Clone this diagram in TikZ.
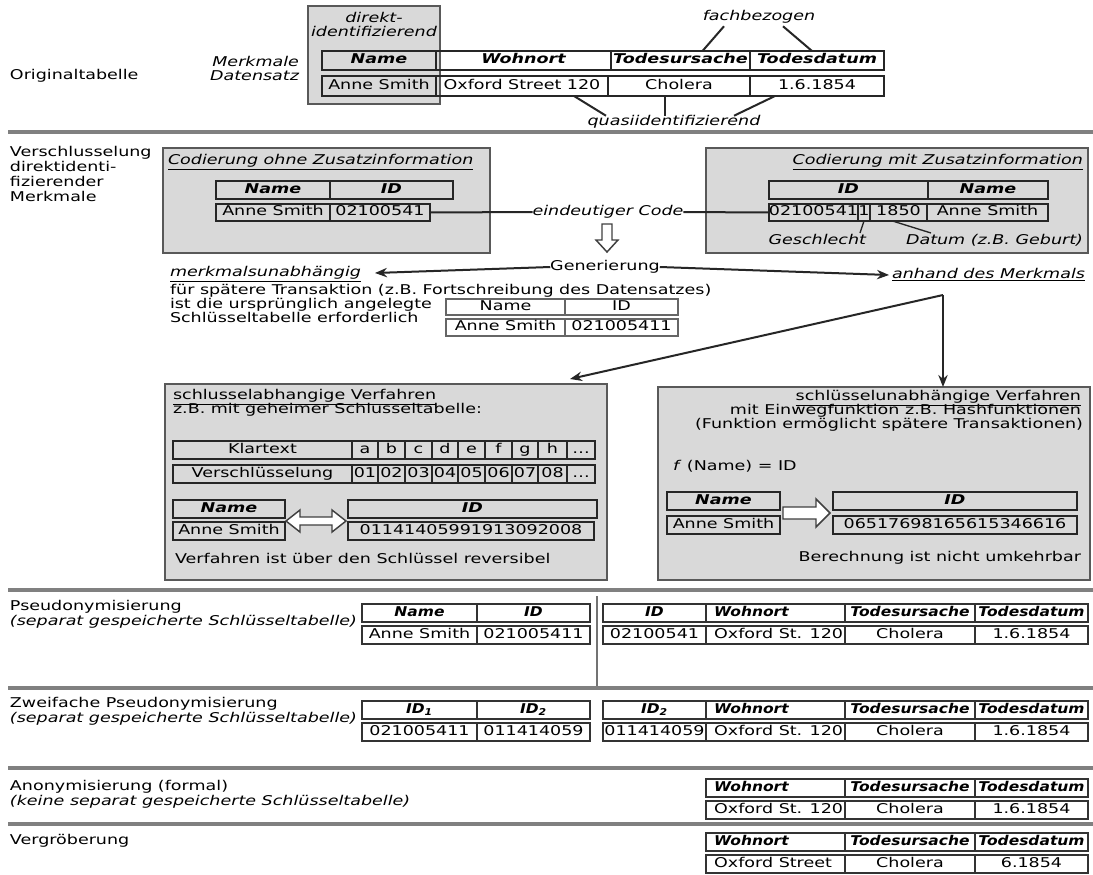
\documentclass[tikz,border=0pt]{standalone}
\usepackage{fontspec}
\setmainfont{DejaVu Sans}[FakeStretch=1.3,ItalicFont={DejaVu Sans Oblique},BoldFont={DejaVu Sans Bold},BoldItalicFont={DejaVu Sans Bold Oblique}]
\newfontfamily\hdrfont{DejaVu Sans}[FakeStretch=1.15,ItalicFont={DejaVu Sans Oblique},BoldFont={DejaVu Sans Bold},BoldItalicFont={DejaVu Sans Bold Oblique}]
\usetikzlibrary{arrows.meta,calc}

% font size used throughout
\newcommand\msz{\fontsize{10.1pt}{11.25pt}\selectfont}
% rectangular cell given by its corners (in px units)
\newcommand\tcell[7][]{\node[#1,inner sep=0pt,outer sep=0pt,minimum width={(#5-#3)*0.75pt},minimum height={(#6-#4)*0.75pt}] (#2) at ({(#3+#5)/2},{(#4+#6)/2}) {#7};}
\newcommand\lft[2]{\makebox[#1][l]{\hspace*{5pt}#2}}

\tikzset{
  txt/.style={inner sep=0pt,outer sep=0pt,text height=7.3pt,text depth=2.1pt},
  lbl/.style={txt,font=\msz},
  itl/.style={txt,font=\msz\itshape},
  graybox/.style={draw=black!65,line width=1.3pt,fill=black!15},
  hcell/.style={draw=black!85,line width=1.2pt,text height=7.3pt,text depth=2.1pt,font=\msz\bfseries\itshape},
  dcell/.style={draw=black!85,line width=1pt,text height=7.3pt,text depth=2.1pt,font=\msz},
  pcell/.style={draw=black!60,line width=0.9pt,text height=7.3pt,text depth=2.1pt,font=\msz},
  lhcell/.style={draw=black!80,line width=1.3pt,text height=7.3pt,text depth=2.1pt,font=\hdrfont\msz\bfseries\itshape},
  ldcell/.style={draw=black!80,line width=1pt,text height=7.3pt,text depth=2.1pt,font=\msz},
  conn/.style={line width=1.5pt,draw=black!85},
  thinconn/.style={line width=1pt,draw=black!85},
  arr/.style={conn,-{Stealth[length=9pt,width=7pt]}},
  sep/.style={line width=2.3pt,draw=black!50},
  vsep/.style={line width=1.8pt,draw=black!55},
  hollow/.style={draw=black!75,line width=1.1pt,fill=white,line join=miter}
}

\begin{document}
\begin{tikzpicture}[x=0.75pt,y=-0.75pt]
\path[use as bounding box,fill=white] (0,0) rectangle (1093,875);

% ---------- original table
\node[lbl,anchor=west] (orig) at (10,76) {Originaltabelle};
\node[itl,anchor=east] (merk) at (299,63) {Merkmale};
\node[itl,anchor=east] (dsatz) at (299,77) {Datensatz};
\tcell[graybox]{dbox}{308}{6}{440}{104}{}
\node[itl] (dk1) at (374,19) {direkt-};
\node[itl] (dk2) at (374,33) {identifizierend};
\tcell[hcell]{h1}{322}{51}{436}{70}{Name}
\tcell[hcell]{h2}{436}{51}{611}{70}{Wohnort}
\tcell[hcell]{h3}{611}{51}{750}{70}{Todesursache}
\tcell[hcell]{h4}{750}{51}{884}{70}{Todesdatum}
\tcell[dcell]{d1}{322}{76}{436}{96}{Anne Smith}
\tcell[dcell]{d2}{436}{76}{608}{96}{Oxford Street 120}
\tcell[dcell]{d3}{608}{76}{750}{96}{Cholera}
\tcell[dcell]{d4}{750}{76}{884}{96}{1.6.1854}
\node[itl] (fach) at (759,17) {fachbezogen};
\draw[conn] ($(fach.south)+(-35,3)$) -- ($(h3.north)+(22,0)$);
\draw[conn] ($(fach.south)+(24,3)$) -- ($(h4.north)+(-5,0)$);
\node[itl] (quasi) at (674,122) {quasiidentifizierend};
\draw[conn] ($(d2.south)+(52,0)$) -- ($(quasi.north)+(-68,0)$);
\draw[conn] ($(d3.south)+(-14,0)$) -- ($(quasi.north)+(-9,0)$);
\draw[conn] ($(d4.south)+(-42,0)$) -- ($(quasi.north)+(60,0)$);
\draw[sep] (8,132) -- (1093,132);

% ---------- coding of directly identifying attributes
\node[lbl,anchor=west] (v1) at (10,153) {Verschlusselung};
\node[lbl,anchor=west] (v2) at (10,168) {direktidenti-};
\node[lbl,anchor=west] (v3) at (10,183) {fizierender};
\node[lbl,anchor=west] (v4) at (10,198) {Merkmale};

\tcell[graybox]{lbox}{163}{148}{490}{253}{}
\node[itl,anchor=west] (lt) at (168,161) {\underline{Codierung ohne Zusatzinformation}};
\tcell[hcell]{lh1}{216}{181}{330}{199}{Name}
\tcell[hcell]{lh2}{330}{181}{453}{199}{ID}
\tcell[dcell]{ld1}{216}{204}{330}{221}{Anne Smith}
\tcell[dcell]{ld2}{330}{204}{430}{221}{02100541}

\tcell[graybox]{rbox}{706}{148}{1088}{253}{}
\node[itl,anchor=east] (rt) at (1083,161) {\underline{Codierung mit Zusatzinformation}};
\tcell[hcell]{rh1}{769}{181}{928}{199}{ID}
\tcell[hcell]{rh2}{928}{181}{1048}{199}{Name}
\tcell[dcell]{rd1}{769}{204}{858}{221}{02100541}
\tcell[dcell]{rd2}{858}{204}{870}{221}{1}
\tcell[dcell]{rd3}{870}{204}{927}{221}{1850}
\tcell[dcell]{rd4}{927}{204}{1048}{221}{Anne Smith}
\node[itl,anchor=east] (gesch) at (866,241) {Geschlecht};
\node[itl,anchor=east] (datum) at (1083,241) {Datum (z.B. Geburt)};
\coordinate (gtop) at (860,233);
\coordinate (dtop) at (931,233);
\draw[thinconn] (rd2.south) -- (gtop);
\draw[thinconn] ($(rd3.south)+(-6,0)$) -- (dtop);

\node[itl] (code) at (608,212) {eindeutiger Code};
\draw[conn] (ld2.east) -- (code.west);
\draw[conn] (code.east) -- (rd1.west);
\coordinate (harr) at (607,238);
\draw[hollow,shift={(harr)}] (-5,-14) -- (5,-14) -- (5,2) -- (11,2) -- (0,14) -- (-11,2) -- (-5,2) -- cycle;

% ---------- generation of the code
\node[lbl] (gen) at (605,267) {Generierung};
\node[itl,anchor=west] (munab) at (170,273) {\underline{merkmalsunabhängig}};
\node[itl,anchor=east] (anhand) at (1085,275) {\underline{anhand des Merkmals}};
\draw[arr] (gen.west) -- ($(munab.east)+(14,0)$);
\draw[arr] (gen.east) -- ($(anhand.west)+(-3,0)$);
\node[lbl,anchor=west] (t1) at (170,291) {für spätere Transaktion (z.B. Fortschreibung des Datensatzes)};
\node[lbl,anchor=west] (t2) at (170,305) {ist die ursprünglich angelegte};
\node[lbl,anchor=west] (t3) at (170,319) {Schlüsseltabelle erforderlich};
\tcell[pcell]{sh1}{446}{299}{565}{315}{Name}
\tcell[pcell]{sh2}{565}{299}{678}{315}{ID}
\tcell[pcell]{sd1}{446}{319}{565}{336}{Anne Smith}
\tcell[pcell]{sd2}{565}{319}{678}{336}{021005411}

% ---------- key dependent procedure
\tcell[graybox]{llbox}{165}{384}{607}{580}{}
\node[lbl,anchor=west] (sa1) at (173,396) {\underline{schlusselabhangige Verfahren}};
\node[lbl,anchor=west] (sa2) at (173,410) {z.B. mit geheimer Schlusseltabelle:};
\tcell[dcell]{klh}{173}{441}{352}{459}{Klartext}
\tcell[dcell]{vsh}{173}{465}{352}{483}{Verschlüsselung}
\foreach \xa/\xb/\ch/\cd [count=\i] in {352/378/a/01,378/405/b/02,405/432/c/03,432/458/d/04,458/485/e/05,485/512/f/06,512/538/g/07,538/567/h/08,567/595/\dots/\dots}{
  \tcell[dcell]{kl\i}{\xa}{441}{\xb}{459}{\ch}
  \tcell[dcell]{vs\i}{\xa}{465}{\xb}{483}{\cd}
}
\tcell[hcell]{lnh}{173}{500}{285}{518}{Name}
\tcell[dcell]{lnd}{173}{522}{285}{540}{Anne Smith}
\tcell[hcell]{lih}{348}{500}{597}{518}{ID}
\tcell[dcell]{lid}{348}{522}{594}{540}{01141405991913092008}
\coordinate (darr) at (316,521);
\draw[hollow,shift={(darr)}] (-30,0) -- (-16,-11) -- (-16,-4) -- (16,-4) -- (16,-11) -- (30,0) -- (16,11) -- (16,4) -- (-16,4) -- (-16,11) -- cycle;
\node[lbl,anchor=west] (srev) at (175,560) {Verfahren ist über den Schlüssel reversibel};

% ---------- key independent procedure
\tcell[graybox]{rrbox}{658}{387}{1090}{580}{}
\node[lbl,anchor=east] (ru1) at (1081,397) {\underline{schlüsselunabhängige Verfahren}};
\node[lbl,anchor=east] (ru2) at (1081,411) {mit Einwegfunktion z.B. Hashfunktionen};
\node[lbl,anchor=east] (ru3) at (1083,425) {(Funktion ermöglicht spätere Transaktionen)};
\node[lbl,anchor=west] (fname) at (673,467) {\textit{f} (Name) = ID};
\tcell[hcell]{rnh}{667}{492}{780}{510}{Name}
\tcell[dcell]{rnd}{667}{516}{780}{534}{Anne Smith}
\tcell[hcell]{rih}{833}{492}{1077}{510}{ID}
\tcell[dcell]{rid}{833}{516}{1077}{534}{06517698165615346616}
\coordinate (rarr) at (806,513);
\draw[hollow,shift={(rarr)}] (-23,-6) -- (10,-6) -- (10,-14) -- (24,0) -- (10,14) -- (10,6) -- (-23,6) -- cycle;
\node[lbl,anchor=east] (rber) at (1081,558) {Berechnung ist nicht umkehrbar};

% arrows from "anhand des Merkmals"
\coordinate (fork) at (943,295);
\draw[arr] (fork) -- ($(llbox.north east)+(-37,-5)$);
\draw[arr] (fork) -- (fork |- rrbox.north);

\draw[sep] (8,590) -- (1093,590);

% ---------- pseudonymisation
\node[lbl,anchor=west] (ps1) at (10,607) {Pseudonymisierung};
\node[itl,anchor=west] (ps2) at (10,622) {(separat gespeicherte Schlüsseltabelle)};
\tcell[lhcell]{p1h1}{362}{604}{477}{622}{Name}
\tcell[lhcell]{p1h2}{477}{604}{590}{622}{ID}
\tcell[ldcell]{p1d1}{362}{626}{477}{644}{Anne Smith}
\tcell[ldcell]{p1d2}{477}{626}{590}{644}{021005411}
\tcell[lhcell]{p2h1}{603}{604}{706}{622}{ID}
\tcell[lhcell]{p2h2}{706}{604}{845}{622}{\lft{102pt}{Wohnort}}
\tcell[lhcell]{p2h3}{845}{604}{975}{622}{Todesursache}
\tcell[lhcell]{p2h4}{975}{604}{1088}{622}{Todesdatum}
\tcell[ldcell]{p2d1}{603}{626}{706}{644}{02100541}
\tcell[ldcell]{p2d2}{706}{626}{845}{644}{\lft{102pt}{Oxford St. 120}}
\tcell[ldcell]{p2d3}{845}{626}{975}{644}{Cholera}
\tcell[ldcell]{p2d4}{975}{626}{1088}{644}{1.6.1854}
\draw[vsep] (597,596) -- (597,690);
\draw[sep] (8,688) -- (1093,688);

% ---------- double pseudonymisation
\node[lbl,anchor=west] (zw1) at (10,704) {Zweifache Pseudonymisierung};
\node[itl,anchor=west] (zw2) at (10,719) {(separat gespeicherte Schlüsseltabelle)};
\tcell[lhcell]{z1h1}{362}{701}{477}{719}{ID\textsubscript{1}}
\tcell[lhcell]{z1h2}{477}{701}{590}{719}{ID\textsubscript{2}}
\tcell[ldcell]{z1d1}{362}{723}{477}{741}{021005411}
\tcell[ldcell]{z1d2}{477}{723}{590}{741}{011414059}
\tcell[lhcell]{z2h1}{603}{701}{706}{719}{ID\textsubscript{2}}
\tcell[lhcell]{z2h2}{706}{701}{845}{719}{\lft{102pt}{Wohnort}}
\tcell[lhcell]{z2h3}{845}{701}{975}{719}{Todesursache}
\tcell[lhcell]{z2h4}{975}{701}{1088}{719}{Todesdatum}
\tcell[ldcell]{z2d1}{603}{723}{706}{741}{011414059}
\tcell[ldcell]{z2d2}{706}{723}{845}{741}{\lft{102pt}{Oxford St. 120}}
\tcell[ldcell]{z2d3}{845}{723}{975}{741}{Cholera}
\tcell[ldcell]{z2d4}{975}{723}{1088}{741}{1.6.1854}
\draw[sep] (8,768) -- (1093,768);

% ---------- anonymisation
\node[lbl,anchor=west] (an1) at (10,787) {Anonymisierung (formal)};
\node[itl,anchor=west] (an2) at (10,802) {(keine separat gespeicherte Schlüsseltabelle)};
\tcell[lhcell]{a1}{706}{779}{845}{797}{\lft{102pt}{Wohnort}}
\tcell[lhcell]{a2}{845}{779}{975}{797}{Todesursache}
\tcell[lhcell]{a3}{975}{779}{1088}{797}{Todesdatum}
\tcell[ldcell]{a4}{706}{801}{845}{819}{\lft{102pt}{Oxford St. 120}}
\tcell[ldcell]{a5}{845}{801}{975}{819}{Cholera}
\tcell[ldcell]{a6}{975}{801}{1088}{819}{1.6.1854}
\draw[sep] (8,824) -- (1093,824);

% ---------- coarsening
\node[lbl,anchor=west] (vg) at (10,841) {Vergröberung};
\tcell[lhcell]{g1}{706}{833}{845}{851}{\lft{102pt}{Wohnort}}
\tcell[lhcell]{g2}{845}{833}{975}{851}{Todesursache}
\tcell[lhcell]{g3}{975}{833}{1088}{851}{Todesdatum}
\tcell[ldcell]{g4}{706}{855}{845}{873}{\lft{102pt}{Oxford Street}}
\tcell[ldcell]{g5}{845}{855}{975}{873}{Cholera}
\tcell[ldcell]{g6}{975}{855}{1088}{873}{6.1854}
\end{tikzpicture}
\end{document}
